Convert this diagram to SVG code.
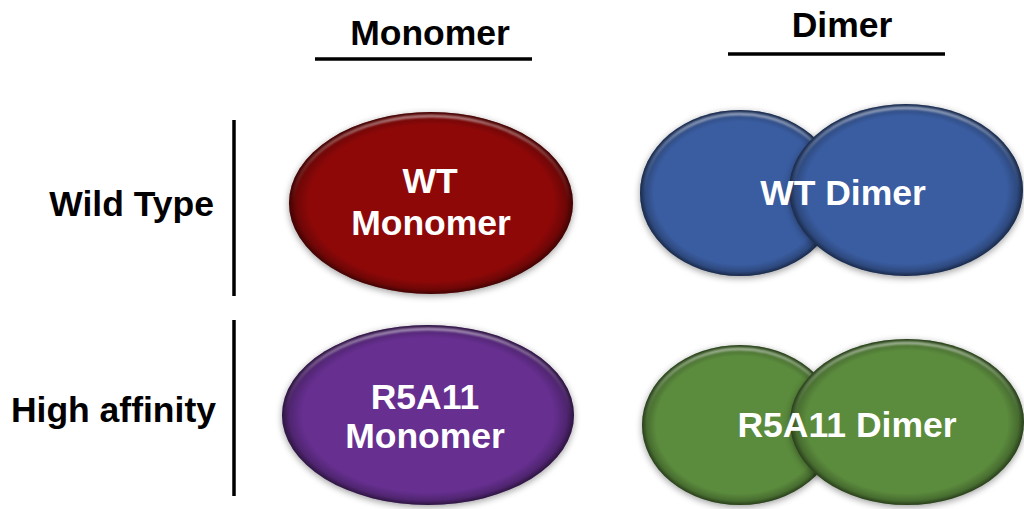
<svg xmlns="http://www.w3.org/2000/svg" width="1024" height="509" viewBox="0 0 1024 509">
  <defs>
    <style>
      .hdr { font-family: "Liberation Sans", Arial, sans-serif; font-weight: bold; font-size: 35.5px; fill: #000; }
      .lbl { font-family: "Liberation Sans", Arial, sans-serif; font-weight: bold; font-size: 35.5px; fill: #fff; text-anchor: middle; }
      .rule { stroke: #000; stroke-width: 3.5; fill: none; }
      .shadow { fill: #000; opacity: 0.38; filter: url(#soft); }
      .edge { fill: url(#rim); }
      .gloss { fill: none; stroke: url(#shine); stroke-width: 2.5; filter: url(#tiny); }
      .red { fill: #8E0808; }
      .blue { fill: #3A5DA1; }
      .purple { fill: #662F90; }
      .green { fill: #5B8B3D; }
    </style>
    <!-- soft drop shadow under each disc -->
    <filter id="soft" x="-20%" y="-20%" width="140%" height="140%">
      <feGaussianBlur stdDeviation="3.5"/>
    </filter>
    <filter id="tiny" x="-10%" y="-10%" width="120%" height="120%">
      <feGaussianBlur stdDeviation="0.8"/>
    </filter>
    <!-- darkened rim for the bevelled look -->
    <radialGradient id="rim" cx="0.5" cy="0.5" r="0.5">
      <stop offset="0" stop-color="#000" stop-opacity="0"/>
      <stop offset="0.86" stop-color="#000" stop-opacity="0"/>
      <stop offset="0.95" stop-color="#000" stop-opacity="0.22"/>
      <stop offset="1" stop-color="#000" stop-opacity="0.55"/>
    </radialGradient>
    <!-- light catch along the upper edge -->
    <linearGradient id="shine" x1="0" y1="0" x2="0" y2="1">
      <stop offset="0" stop-color="#fff" stop-opacity="0.55"/>
      <stop offset="0.3" stop-color="#fff" stop-opacity="0.15"/>
      <stop offset="0.5" stop-color="#fff" stop-opacity="0"/>
    </linearGradient>
  </defs>

  <rect width="1024" height="509" fill="#fff"/>

  <!-- column and row headings -->
  <g id="col-monomer">
    <text class="hdr" x="430" y="45" text-anchor="middle">Monomer</text>
    <line class="rule" x1="315" y1="59" x2="532" y2="59"/>
  </g>
  <g id="col-dimer">
    <text class="hdr" x="842" y="37" text-anchor="middle">Dimer</text>
    <line class="rule" x1="728" y1="54" x2="945" y2="54"/>
  </g>
  <g id="row-wildtype">
    <text class="hdr" x="214" y="216" text-anchor="end">Wild Type</text>
    <line class="rule" x1="234" y1="120" x2="234" y2="296"/>
  </g>
  <g id="row-highaffinity">
    <text class="hdr" x="216" y="422" text-anchor="end">High affinity</text>
    <line class="rule" x1="234" y1="320" x2="234" y2="496"/>
  </g>

  <g id="connectors"/>

  <!-- wild-type monomer -->
  <g id="wt-monomer">
    <ellipse class="shadow" cx="431" cy="205" rx="142" ry="91"/>
    <ellipse class="red" cx="431" cy="203" rx="142" ry="91"/>
    <ellipse class="edge" cx="431" cy="203" rx="142" ry="91"/>
    <ellipse class="gloss" cx="431" cy="203" rx="138" ry="87"/>
    <text class="lbl" x="430" y="193">WT</text>
    <text class="lbl" x="431" y="235">Monomer</text>
  </g>

  <!-- wild-type dimer -->
  <g id="wt-dimer">
    <ellipse class="shadow" cx="740" cy="195" rx="100" ry="83"/>
    <ellipse class="blue" cx="740" cy="193" rx="100" ry="83"/>
    <ellipse class="edge" cx="740" cy="193" rx="100" ry="83"/>
    <ellipse class="gloss" cx="740" cy="193" rx="96" ry="79"/>
    <ellipse class="shadow" cx="906" cy="192" rx="117" ry="86"/>
    <ellipse class="blue" cx="906" cy="190" rx="117" ry="86"/>
    <ellipse class="edge" cx="906" cy="190" rx="117" ry="86"/>
    <ellipse class="gloss" cx="906" cy="190" rx="113" ry="82"/>
    <text class="lbl" x="843" y="205">WT Dimer</text>
  </g>

  <!-- high-affinity monomer -->
  <g id="r5a11-monomer">
    <ellipse class="shadow" cx="428" cy="417" rx="146" ry="90"/>
    <ellipse class="purple" cx="428" cy="415" rx="146" ry="90"/>
    <ellipse class="edge" cx="428" cy="415" rx="146" ry="90"/>
    <ellipse class="gloss" cx="428" cy="415" rx="142" ry="86"/>
    <text class="lbl" x="425" y="409">R5A11</text>
    <text class="lbl" x="425" y="448">Monomer</text>
  </g>

  <!-- high-affinity dimer -->
  <g id="r5a11-dimer">
    <ellipse class="shadow" cx="740" cy="427" rx="98" ry="80"/>
    <ellipse class="green" cx="740" cy="425" rx="98" ry="80"/>
    <ellipse class="edge" cx="740" cy="425" rx="98" ry="80"/>
    <ellipse class="gloss" cx="740" cy="425" rx="94" ry="76"/>
    <ellipse class="shadow" cx="907" cy="424" rx="117" ry="83"/>
    <ellipse class="green" cx="907" cy="422" rx="117" ry="83"/>
    <ellipse class="edge" cx="907" cy="422" rx="117" ry="83"/>
    <ellipse class="gloss" cx="907" cy="422" rx="113" ry="79"/>
    <text class="lbl" x="847" y="437">R5A11 Dimer</text>
  </g>
</svg>
